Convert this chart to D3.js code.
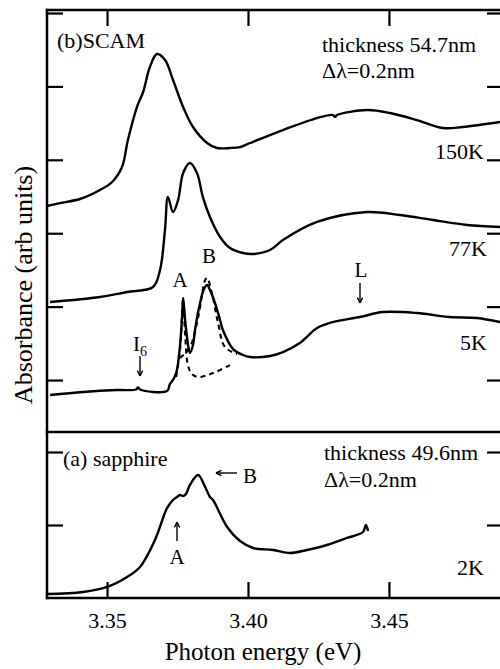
<!DOCTYPE html>
<meta charset="utf-8">
<title>Absorbance spectra</title>
<script src="https://d3js.org/d3.v7.min.js"></script>
<style>
  body { margin: 0; background: #fff; }
  text { font-family: "Liberation Serif", "Times New Roman", serif; fill: #000; }
</style>
<body>
<script>
// photon energy (eV) and absorbance (arb units, one tick = 1)
var e150 = [3.3287, 3.3333, 3.3404, 3.3475, 3.3518, 3.3553, 3.3574, 3.3606, 3.3628, 3.3652, 3.3677, 3.3706, 3.3734, 3.3770, 3.3805, 3.3855, 3.3890, 3.3936, 3.3972, 3.4007, 3.4124, 3.4245, 3.4301, 3.4309, 3.4316, 3.4422, 3.4504, 3.4599, 3.4691, 3.4762, 3.4894];
var a150 = [2.371, 2.411, 2.466, 2.589, 2.698, 2.902, 3.270, 3.719, 3.924, 4.264, 4.441, 4.360, 4.087, 3.719, 3.447, 3.229, 3.161, 3.161, 3.174, 3.229, 3.406, 3.569, 3.610, 3.585, 3.610, 3.678, 3.638, 3.542, 3.433, 3.447, 3.515];

var e77 = [3.3298, 3.3475, 3.3571, 3.3663, 3.3688, 3.3706, 3.3716, 3.3734, 3.3752, 3.3770, 3.3794, 3.3819, 3.3840, 3.3865, 3.3901, 3.3936, 3.3982, 3.4018, 3.4078, 3.4124, 3.4245, 3.4422, 3.4539, 3.4656, 3.4777, 3.4894];
var a77 = [1.063, 1.131, 1.199, 1.267, 1.499, 2.071, 2.493, 2.289, 2.452, 2.820, 2.956, 2.820, 2.493, 2.221, 1.948, 1.798, 1.730, 1.717, 1.771, 1.907, 2.153, 2.289, 2.248, 2.180, 2.112, 2.084];

var e5 = [3.3298, 3.3415, 3.3535, 3.3603, 3.3610, 3.3617, 3.3713, 3.3723, 3.3738, 3.3748, 3.3759, 3.3766, 3.3770, 3.3777, 3.3784, 3.3794, 3.3805, 3.3812, 3.3830, 3.3844, 3.3855, 3.3865, 3.3883, 3.3901, 3.3911, 3.3947, 3.3982, 3.4007, 3.4078, 3.4124, 3.4184, 3.4245, 3.4301, 3.4397, 3.4479, 3.4599, 3.4716, 3.4812, 3.4894];
var a5 = [-0.204, -0.163, -0.136, -0.129, -0.100, -0.129, -0.150, -0.054, 0.027, 0.136, 0.477, 0.845, 1.117, 0.817, 0.572, 0.368, 0.477, 0.681, 1.049, 1.240, 1.294, 1.226, 1.049, 0.817, 0.681, 0.422, 0.341, 0.313, 0.327, 0.381, 0.504, 0.708, 0.790, 0.858, 0.926, 0.913, 0.858, 0.845, 0.790];

// fitted components at 5K (dashed)
var eFitB = [3.3759, 3.3794, 3.3823, 3.3848, 3.3855, 3.3872, 3.3894, 3.3918, 3.3961];
var aFitB = [0.300, 0.450, 0.850, 1.362, 1.390, 1.185, 0.777, 0.450, 0.354];
var eFitA = [3.3745, 3.3759, 3.3770, 3.3777, 3.3787, 3.3801, 3.3823, 3.3876, 3.3936];
var aFitA = [0.041, 0.409, 1.090, 0.613, 0.204, 0.082, 0.041, 0.095, 0.204];

var e2 = [3.3287, 3.3415, 3.3500, 3.3571, 3.3617, 3.3670, 3.3713, 3.3734, 3.3748, 3.3759, 3.3770, 3.3780, 3.3794, 3.3823, 3.3848, 3.3865, 3.3876, 3.3926, 3.3972, 3.4018, 3.4089, 3.4149, 3.4209, 3.4280, 3.4351, 3.4408, 3.4418, 3.4426];
var a2 = [0.055, 0.082, 0.151, 0.288, 0.425, 0.795, 1.233, 1.342, 1.384, 1.411, 1.397, 1.425, 1.548, 1.685, 1.521, 1.384, 1.342, 0.973, 0.781, 0.685, 0.658, 0.616, 0.658, 0.726, 0.822, 0.904, 1.000, 0.918];

var xTicks = [3.35, 3.40, 3.45];
var topTicks = [0, 1, 2, 3, 4, 5];
var botTicks = [1, 2];

var W = 500, H = 669;
var L = 47, R = 500, T = 10, MID = 432, B = 598;

var svg = d3.select("body").append("svg").attr("width", W).attr("height", H);

var x = d3.scaleLinear().domain([3.3287, 3.4894]).range([L, R]);
var yTop = d3.scaleLinear().domain([-0.708, 5.041]).range([MID, T]);
var yBot = d3.scaleLinear().domain([0, 2.274]).range([B, MID]);

function zip(es, as) { return es.map(function (e, i) { return [e, as[i]]; }); }

function drawCurve(es, as, y, dashed) {
    var line = d3.line().x(d => x(d[0])).y(d => y(d[1])).curve(d3.curveCatmullRom.alpha(0.5));
    svg.append("path").datum(zip(es, as))
        .attr("d", line)
        .attr("fill", "none")
        .attr("stroke", "#000")
        .attr("stroke-width", dashed ? 2.1 : 2.4)
        .attr("stroke-linejoin", "round")
        .attr("stroke-dasharray", dashed ? "5,4" : null);
}

// axes
var axisStyle = function (g) {
    g.select(".domain").remove();
    g.selectAll(".tick line").attr("stroke", "#000").attr("stroke-width", 2.2);
};

svg.append("g").attr("transform", "translate(" + L + ",0)")
    .call(d3.axisLeft(yTop).tickValues(topTicks).tickSize(-16).tickFormat(""))
    .call(axisStyle);
svg.append("g").attr("transform", "translate(" + R + ",0)")
    .call(d3.axisRight(yTop).tickValues(topTicks).tickSize(-13).tickFormat(""))
    .call(axisStyle);
svg.append("g").attr("transform", "translate(" + L + ",0)")
    .call(d3.axisLeft(yBot).tickValues(botTicks).tickSize(-16).tickFormat(""))
    .call(axisStyle);
svg.append("g").attr("transform", "translate(" + R + ",0)")
    .call(d3.axisRight(yBot).tickValues(botTicks).tickSize(-13).tickFormat(""))
    .call(axisStyle);

svg.append("g").attr("transform", "translate(0," + T + ")")
    .call(d3.axisTop(x).tickValues(xTicks).tickSize(-16).tickFormat(""))
    .call(axisStyle);
var xb = svg.append("g").attr("transform", "translate(0," + B + ")")
    .call(d3.axisBottom(x).tickValues(xTicks).tickSize(-16).tickPadding(14).tickFormat(d3.format(".2f")))
    .call(axisStyle);
xb.selectAll("text").attr("font-size", 22).attr("font-family", "Liberation Serif, serif").attr("fill", "#000");

// frame
[[L, T, R, T], [L, MID, R, MID], [L, B, R, B], [L, T, L, B]].forEach(function (s) {
    svg.append("line").attr("x1", s[0]).attr("y1", s[1]).attr("x2", s[2]).attr("y2", s[3])
        .attr("stroke", "#000").attr("stroke-width", 2.5).attr("stroke-linecap", "square");
});

// curves
drawCurve(e150, a150, yTop);
drawCurve(e77, a77, yTop);
drawCurve(e5, a5, yTop);
drawCurve(eFitB, aFitB, yTop, true);
drawCurve(eFitA, aFitA, yTop, true);
drawCurve(e2, a2, yBot);

// text
function label(tx, ty, s, size, anchor) {
    return svg.append("text").attr("x", tx).attr("y", ty).attr("font-size", size || 22)
        .attr("text-anchor", anchor || "start").text(s);
}
label(57, 48, "(b)SCAM");
label(322, 52, "thickness 54.7nm");
label(322, 78, "\u0394\u03bb=0.2nm");
label(484, 159, "150K", 22, "end");
label(487, 256, "77K", 22, "end");
label(487, 350, "5K", 22, "end");
label(63, 466, "(a) sapphire");
label(324, 460, "thickness 49.6nm");
label(324, 487, "\u0394\u03bb=0.2nm");
label(484, 575, "2K", 22, "end");

label(180, 287, "A", 21, "middle");
label(209, 263, "B", 21, "middle");
var i6 = label(133, 351, "I", 21);
i6.append("tspan").attr("font-size", 14).attr("dy", 5).text("6");
label(361, 277, "L", 21, "middle");
label(177, 564, "A", 21, "middle");
label(250, 483, "B", 21, "middle");

// arrows
function arrow(x1, y1, x2, y2) {
    svg.append("line").attr("x1", x1).attr("y1", y1).attr("x2", x2).attr("y2", y2)
        .attr("stroke", "#000").attr("stroke-width", 1.4);
    var ang = Math.atan2(y2 - y1, x2 - x1), h = 6;
    [0.45, -0.45].forEach(function (da) {
        svg.append("line").attr("x1", x2).attr("y1", y2)
            .attr("x2", x2 - h * Math.cos(ang + da)).attr("y2", y2 - h * Math.sin(ang + da))
            .attr("stroke", "#000").attr("stroke-width", 1.4);
    });
}
arrow(140, 356, 140, 376);
arrow(360, 283, 360, 303);
arrow(177, 541, 177, 522);
arrow(237, 473, 216, 473);

// axis titles
svg.append("text").attr("x", 263).attr("y", 660).attr("font-size", 25)
    .attr("text-anchor", "middle").text("Photon energy (eV)");
svg.append("text").attr("transform", "translate(32,285) rotate(-90)").attr("font-size", 26)
    .attr("text-anchor", "middle").text("Absorbance (arb units)");
</script>
</body>
